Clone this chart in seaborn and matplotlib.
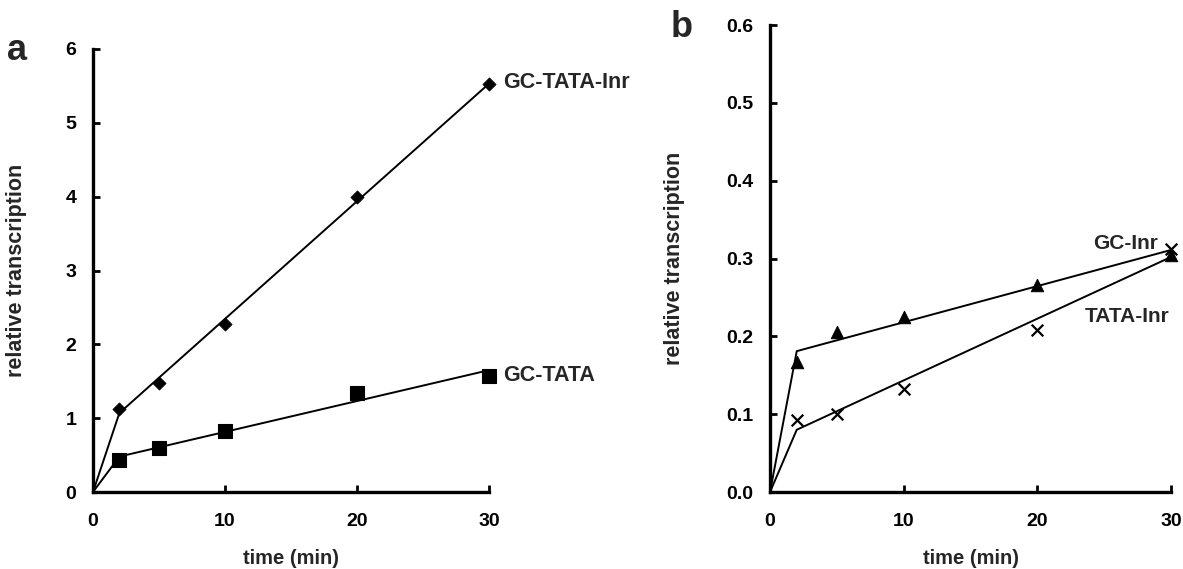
import numpy as np
import pandas as pd
import matplotlib
matplotlib.use('Agg')
import matplotlib.pyplot as plt
import seaborn as sns

# measured time points (min)
time = [2, 5, 10, 20, 30]
gc_tata_inr = [1.12, 1.47, 2.28, 4.00, 5.53]
gc_tata = [0.43, 0.60, 0.83, 1.34, 1.57]
gc_inr = [0.167, 0.205, 0.225, 0.266, 0.305]
tata_inr = [0.092, 0.100, 0.133, 0.208, 0.312]

# fitted lines (break at 2 min)
fit_time = [0, 2, 30]
fit_gc_tata_inr = [0, 1.07, 5.53]
fit_gc_tata = [0, 0.48, 1.65]
fit_gc_inr = [0, 0.181, 0.311]
fit_tata_inr = [0, 0.080, 0.302]

sns.set_style('ticks')
plt.rcParams['font.family'] = ['Liberation Sans', 'DejaVu Sans']
plt.rcParams['font.weight'] = 'bold'

fig = plt.figure(figsize=(11.83, 5.69), dpi=100)
ax1 = fig.add_axes([0.0786, 0.1353, 0.3347, 0.7786])
ax2 = fig.add_axes([0.6509, 0.1353, 0.3390, 0.8207])


def style(ax, ymax, step, fmt, xl, yl):
    for s in ['top', 'right']:
        ax.spines[s].set_visible(False)
    for s in ['left', 'bottom']:
        ax.spines[s].set_linewidth(2.4)
        ax.spines[s].set_color('black')
    ax.set_xlim(0, 30)
    ax.set_ylim(0, ymax)
    ax.set_xticks([0, 10, 20, 30])
    ax.set_yticks(np.arange(0, ymax + step / 2, step))
    ax.yaxis.set_major_formatter(plt.FormatStrFormatter(fmt))
    ax.tick_params(axis='both', direction='in', length=5, width=2, labelsize=14, colors='black')
    ax.tick_params(axis='x', pad=15)
    ax.tick_params(axis='y', pad=12)
    for lab in ax.get_xticklabels() + ax.get_yticklabels():
        lab.set_fontweight('bold')
    ax.set_xlabel('time (min)', fontsize=14.5, fontweight='bold')
    ax.set_ylabel('relative transcription', fontsize=15.5, fontweight='bold')
    ax.xaxis.set_label_coords(0.5, xl)
    ax.yaxis.set_label_coords(yl, 0.5)


# panel a
sns.lineplot(x=fit_time, y=fit_gc_tata_inr, ax=ax1, color='black', linewidth=1.4)
sns.lineplot(x=fit_time, y=fit_gc_tata, ax=ax1, color='black', linewidth=1.4)
sns.scatterplot(x=time, y=gc_tata_inr, ax=ax1, marker='D', s=45, color='black', edgecolor='black', zorder=3, clip_on=False)
sns.scatterplot(x=time, y=gc_tata, ax=ax1, marker='s', s=95, color='black', edgecolor='black', zorder=3, clip_on=False)
style(ax1, 6, 1, '%d', -0.128, -0.167)
ax1.text(31.05, 5.55, 'GC-TATA-Inr', fontsize=15.5, fontweight='bold', va='center', ha='left', clip_on=False)
ax1.text(31.05, 1.58, 'GC-TATA', fontsize=15.5, fontweight='bold', va='center', ha='left', clip_on=False)

# panel b
sns.lineplot(x=fit_time, y=fit_gc_inr, ax=ax2, color='black', linewidth=1.4)
sns.lineplot(x=fit_time, y=fit_tata_inr, ax=ax2, color='black', linewidth=1.4)
sns.scatterplot(x=time, y=gc_inr, ax=ax2, marker='^', s=80, color='black', edgecolor='black', zorder=3, clip_on=False)
sns.scatterplot(x=time, y=tata_inr, ax=ax2, marker='x', s=70, color='black', linewidth=1.6, zorder=3, clip_on=False)
style(ax2, 0.6, 0.1, '%.1f', -0.121, -0.212)
ax2.text(29.0, 0.319, 'GC-Inr', fontsize=15, fontweight='bold', va='center', ha='right', clip_on=False)
ax2.text(29.9, 0.225, 'TATA-Inr', fontsize=15, fontweight='bold', va='center', ha='right', clip_on=False)

fig.text(0.0145, 0.912, 'a', fontsize=26, fontweight='bold', ha='center', va='center')
fig.text(0.576, 0.952, 'b', fontsize=26, fontweight='bold', ha='center', va='center')

fig.savefig('out.png', dpi=100, facecolor='white')
